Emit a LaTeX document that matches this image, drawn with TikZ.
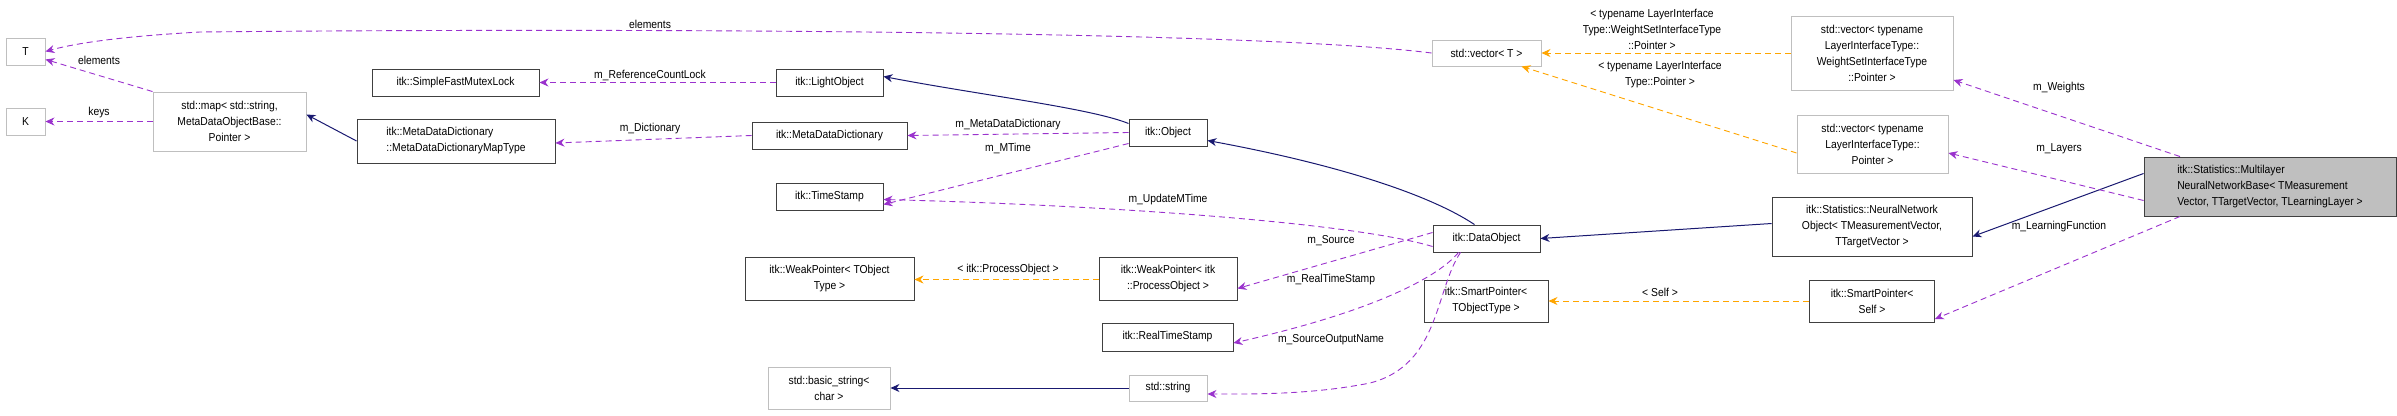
\documentclass[tikz,border=0pt]{standalone}
\usepackage{fontspec}
\setmainfont{Liberation Sans}[FakeStretch=0.9]
\usetikzlibrary{arrows.meta}
\definecolor{pur}{HTML}{9A32CD}
\definecolor{nav}{HTML}{191970}
\definecolor{orng}{HTML}{FFA500}
\begin{document}
\begin{tikzpicture}[x=1pt,y=-1pt,
  font=\fontsize{11.5}{16}\selectfont,
  box/.style={draw=black!75,line width=0.9pt,inner sep=0pt,align=center},
  gbox/.style={draw=black!25,line width=0.9pt,inner sep=0pt,align=center},
  tip/.style={-{Stealth[length=9pt,width=8pt]}},
  mem/.style={tip,draw=pur,dashed,dash pattern=on 6pt off 4pt,line width=0.9pt},
  tpl/.style={tip,draw=orng,dashed,dash pattern=on 6pt off 4pt,line width=0.9pt},
  inh/.style={tip,draw=nav,line width=1pt},
  lbl/.style={inner sep=1pt,align=center}]
\useasboundingbox (0,0) rectangle (2397,415);
% nodes
\node[gbox,minimum width=39pt,minimum height=27pt] (T) at (25.5,51.5) {T};
\node[gbox,minimum width=39pt,minimum height=27pt] (K) at (25.5,121.5) {K};
\node[gbox,minimum width=153pt,minimum height=59pt] (map) at (229.5,121.5) {std::map< std::string,\\MetaDataObjectBase::\\Pointer >};
\node[box,minimum width=167pt,minimum height=27pt] (sfml) at (455.5,82.5) {itk::SimpleFastMutexLock};
\node[box,minimum width=198pt,minimum height=44pt,align=left] (mapt) at (456,141) {itk::MetaDataDictionary\\::MetaDataDictionaryMapType};
\node[box,minimum width=107pt,minimum height=27pt] (lo) at (829.5,82.5) {itk::LightObject};
\node[box,minimum width=155pt,minimum height=27pt] (mdd) at (829.5,135.5) {itk::MetaDataDictionary};
\node[box,minimum width=78pt,minimum height=27pt] (obj) at (1168,132.5) {itk::Object};
\node[box,minimum width=107pt,minimum height=27pt] (ts) at (829.5,196.5) {itk::TimeStamp};
\node[box,minimum width=107pt,minimum height=27pt] (do) at (1486.5,238.5) {itk::DataObject};
\node[box,minimum width=169pt,minimum height=43pt] (wpt) at (829.5,278.5) {itk::WeakPointer< TObject\\Type >};
\node[box,minimum width=138pt,minimum height=43pt] (wpi) at (1168,278.5) {itk::WeakPointer< itk\\::ProcessObject >};
\node[box,minimum width=131pt,minimum height=28pt] (rts) at (1167.5,337) {itk::RealTimeStamp};
\node[gbox,minimum width=122pt,minimum height=42pt] (bs) at (829,388) {std::basic\_string<\\char >};
\node[gbox,minimum width=78pt,minimum height=26pt] (str) at (1168,388) {std::string};
\node[box,minimum width=124pt,minimum height=42pt] (spt) at (1486,301) {itk::SmartPointer<\\TObjectType >};
\node[gbox,minimum width=109pt,minimum height=26pt] (vt) at (1486.5,53) {std::vector< T >};
\node[gbox,minimum width=162pt,minimum height=74pt] (vw) at (1872,53) {std::vector< typename\\LayerInterfaceType::\\WeightSetInterfaceType\\::Pointer >};
\node[gbox,minimum width=151pt,minimum height=58pt] (vl) at (1872.5,144) {std::vector< typename\\LayerInterfaceType::\\Pointer >};
\node[box,minimum width=200pt,minimum height=59pt] (nno) at (1872,226.5) {itk::Statistics::NeuralNetwork\\Object< TMeasurementVector,\\TTargetVector >};
\node[box,minimum width=125pt,minimum height=42pt] (sps) at (1872,301) {itk::SmartPointer<\\Self >};
\node[box,fill=black!25,minimum width=252pt,minimum height=59pt,align=left] (ml) at (2270,186.5) {itk::Statistics::Multilayer\\NeuralNetworkBase< TMeasurement\\Vector, TTargetVector, TLearningLayer >};
% edges
\draw[mem] (vt.west) .. controls (1250,30) and (600,28) .. (200,32) .. controls (130,36) and (80,42) .. (T.east);
\node[lbl] at (650,24) {elements};
\draw[mem] (map.north west) -- ([yshift=6pt]T.south east);
\node[lbl] at (99,60) {elements};
\draw[mem] (map.west) -- (K.east);
\node[lbl] at (99,113) {keys};
\draw[inh] (mapt.west) -- ([yshift=7pt]map.east);
\draw[mem] (lo.west) -- (sfml.east);
\node[lbl] at (650,75) {m\_ReferenceCountLock};
\draw[mem] (mdd.west) -- ([yshift=-2pt]mapt.east);
\node[lbl] at (650,129) {m\_Dictionary};
\draw[inh] ([yshift=9pt]obj.west) .. controls (1090,108) and (980,95) .. ([yshift=6pt]lo.east);
\draw[mem] (obj.west) -- (mdd.east);
\node[lbl] at (1008,125) {m\_MetaDataDictionary};
\draw[mem] ([yshift=-11pt]obj.west) -- ([yshift=-8pt]ts.east);
\node[lbl] at (1008,148) {m\_MTime};
\draw[inh] ([xshift=-12pt]do.north) .. controls (1430,195) and (1340,165) .. ([yshift=-8pt]obj.east);
\draw[mem] ([yshift=-8pt]do.west) .. controls (1350,222) and (1100,205) .. ([yshift=-3pt]ts.east);
\node[lbl] at (1168,200) {m\_UpdateMTime};
\draw[mem] ([yshift=6pt]do.west) -- ([yshift=-10pt]wpi.east);
\node[lbl] at (1331,241) {m\_Source};
\draw[mem] ([xshift=-28pt]do.south) .. controls (1440,275) and (1380,310) .. ([yshift=-6pt]rts.east);
\node[lbl] at (1331,280) {m\_RealTimeStamp};
\draw[mem] ([xshift=-26pt]do.south) .. controls (1435,290) and (1440,365) .. (1370,383) .. controls (1310,395) and (1250,394) .. ([yshift=-6pt]str.east);
\node[lbl] at (1331,340) {m\_SourceOutputName};
\draw[tpl] ([yshift=-1pt]wpi.west) -- ([yshift=-1pt]wpt.east);
\node[lbl] at (1008,270) {< itk::ProcessObject >};
\draw[tpl] (sps.west) -- (spt.east);
\node[lbl] at (1660,292) {< Self >};
\draw[tpl] (vw.west) -- (vt.east);
\node[lbl] at (1652,29) {< typename LayerInterface\\Type::WeightSetInterfaceType\\::Pointer >};
\draw[tpl] ([yshift=-9pt]vl.west) -- ([xshift=35pt]vt.south);
\node[lbl] at (1660,75) {< typename LayerInterface\\Type::Pointer >};
\draw[inh] ([yshift=3pt]nno.west) -- (do.east);
\draw[inh] ([yshift=13pt]ml.west) -- ([yshift=-10pt]nno.east);
\draw[mem] ([xshift=-90pt]ml.north) -- ([yshift=-27pt]vw.east);
\node[lbl] at (2059,88) {m\_Weights};
\draw[mem] ([yshift=-14pt]ml.west) -- ([yshift=-9pt]vl.east);
\node[lbl] at (2059,149) {m\_Layers};
\draw[mem] ([xshift=-90pt]ml.south) -- ([yshift=-18pt]sps.east);
\node[lbl] at (2059,227) {m\_LearningFunction};
\draw[inh] (str.west) -- (bs.east);
\end{tikzpicture}
\end{document}
